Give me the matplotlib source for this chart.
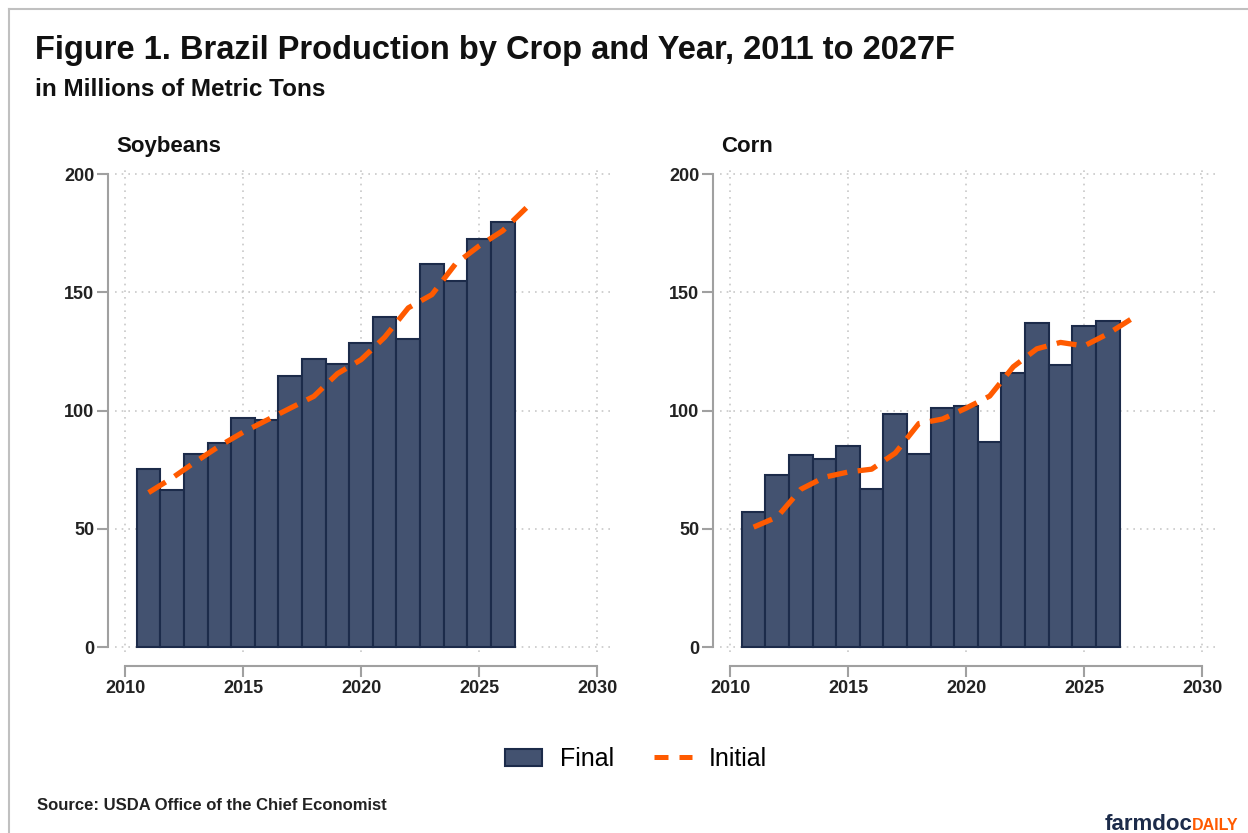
import matplotlib
matplotlib.use("Agg")
import matplotlib.pyplot as plt
from matplotlib.patches import Patch
from matplotlib.lines import Line2D
import numpy as np

years = [2011, 2012, 2013, 2014, 2015, 2016, 2017, 2018, 2019, 2020,
         2021, 2022, 2023, 2024, 2025, 2026]
line_years = years + [2027]

soy_final = [75.2, 66.4, 81.6, 86.4, 96.9, 96.2, 114.6, 121.8, 119.6, 128.5,
             139.4, 130.2, 162.0, 154.6, 172.6, 179.9]
soy_initial = [65.3, 71.5, 78.4, 85.0, 90.8, 95.9, 101.0, 106.0, 115.6, 121.5,
               131.0, 143.4, 149.0, 162.0, 169.6, 176.0, 185.7]

corn_final = [57.2, 72.8, 81.3, 79.7, 85.0, 66.7, 98.4, 81.8, 101.0, 101.9,
              86.9, 115.9, 137.1, 119.1, 135.6, 138.0]
corn_initial = [50.7, 55.0, 66.7, 71.8, 74.0, 75.2, 82.0, 94.5, 96.4, 101.0,
                106.1, 118.5, 126.1, 128.8, 127.3, 132.4, 138.7]

yticks = [0, 50, 100, 150, 200]
xticks = [2010, 2015, 2020, 2025, 2030]

BAR = "#435270"
BAR_EDGE = "#1c2b4a"
ORANGE = "#ff5a00"
GRID = "#c8c8c8"
SPINE = "#a0a0a0"

W, H = 1248, 833
fig = plt.figure(figsize=(W / 100, H / 100), dpi=100)
fig.patch.set_facecolor("white")

BOLD = ["Liberation Sans", "DejaVu Sans"]


def px_rect(left, top, right, bottom):
    return [left / W, 1 - bottom / H, (right - left) / W, (bottom - top) / H]


def panel(rect, title, final, initial):
    ax = fig.add_axes(rect)
    for s in ["top", "right"]:
        ax.spines[s].set_visible(False)
    ax.spines["left"].set_position(("outward", 5))
    ax.spines["bottom"].set_position(("outward", 10))
    ax.set_xlim(2009.576, 2030.63)
    ax.set_ylim(-2.1, 201.7)
    ax.bar(years, final, width=1.0, color=BAR, edgecolor=BAR_EDGE,
           linewidth=1.5, zorder=2)
    ax.plot(line_years, initial, color=ORANGE, linewidth=3.8,
            dashes=(3.8, 2.0), zorder=3, solid_capstyle="butt")
    ax.set_xticks(xticks)
    ax.set_yticks(yticks)
    ax.set_xticklabels([str(t) for t in xticks], fontfamily=BOLD,
                       fontweight="bold", fontsize=13, color="#222222")
    ax.set_yticklabels([str(t) for t in yticks], fontfamily=BOLD,
                       fontweight="bold", fontsize=13, color="#222222")
    ax.grid(True, color=GRID, linestyle=(0, (1, 3)), linewidth=1.2, zorder=0)
    ax.set_axisbelow(True)
    ax.spines["left"].set_bounds(0, 200)
    ax.spines["bottom"].set_bounds(2010, 2030)
    for s in ["left", "bottom"]:
        ax.spines[s].set_color(SPINE)
        ax.spines[s].set_linewidth(1.5)
    ax.tick_params(axis="y", color=SPINE, width=1.5, length=8, pad=2)
    ax.tick_params(axis="x", color=SPINE, width=1.5, length=8, pad=2)
    ax.text(0.003, 1.028, title, transform=ax.transAxes, fontfamily=BOLD,
            fontweight="bold", fontsize=16, color="#111111",
            ha="left", va="bottom")
    return ax


panel(px_rect(115, 170, 612, 652), "Soybeans", soy_final, soy_initial)
panel(px_rect(720, 170, 1217, 652), "Corn", corn_final, corn_initial)

# Titles
fig.text(35 / W, 1 - 50 / H, "Figure 1. Brazil Production by Crop and Year, 2011 to 2027F",
         fontfamily=BOLD, fontweight="bold", fontsize=23.5, color="#111111",
         ha="left", va="center")
fig.text(35 / W, 1 - 89 / H, "in Millions of Metric Tons",
         fontfamily=BOLD, fontweight="bold", fontsize=17.5, color="#111111",
         ha="left", va="center")

# Legend
handles = [Patch(facecolor=BAR, edgecolor=BAR_EDGE, linewidth=1.5, label="Final"),
           Line2D([0], [0], color=ORANGE, linewidth=3.6, dashes=(2.8, 2.2),
                  label="Initial")]
fig.legend(handles=handles, loc="center", bbox_to_anchor=(636 / W, 1 - 759 / H),
           ncol=2, frameon=False, prop={"family": BOLD, "size": 18},
           handlelength=1.5, handleheight=0.7, columnspacing=1.6,
           handletextpad=0.7)

# Source
fig.text(37 / W, 1 - 806 / H, "Source: USDA Office of the Chief Economist",
         fontfamily=BOLD, fontweight="bold", fontsize=12, color="#222222",
         ha="left", va="center")

# Logo
fig.text(1105 / W, 1 - 824 / H, "farmdoc", fontfamily=BOLD,
         fontweight="bold", fontsize=16, color="#1c2b4a",
         ha="left", va="center")
fig.text(1192 / W, 1 - 826 / H, "DAILY", fontfamily=BOLD,
         fontweight="bold", fontsize=11.5, color=ORANGE, ha="left", va="center")

# Frame lines
fig.add_artist(Line2D([9 / W, 1], [1 - 9 / H, 1 - 9 / H], transform=fig.transFigure,
                      color="#c0c0c0", linewidth=1.5))
fig.add_artist(Line2D([9 / W, 9 / W], [0, 1 - 9 / H], transform=fig.transFigure,
                      color="#c0c0c0", linewidth=1.5))

fig.savefig("out.png", dpi=100, facecolor="white")
